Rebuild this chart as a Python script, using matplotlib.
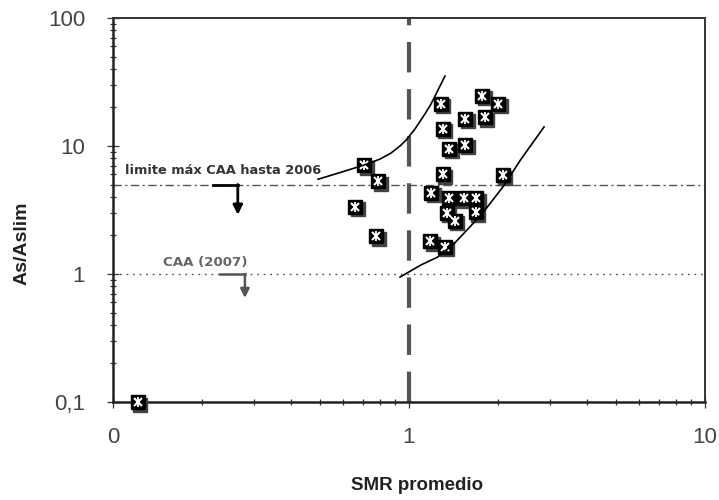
import matplotlib
matplotlib.use("Agg")
import matplotlib.pyplot as plt
import matplotlib.transforms as mtransforms
from matplotlib.ticker import FixedLocator, FixedFormatter, NullFormatter

# ── datos ───────────────────────────────────────────────────
smr_promedio = [1.28, 1.77, 2.00, 1.55, 1.80, 1.30, 1.37, 1.55, 1.30, 2.07,
                1.19, 1.36, 1.53, 1.69, 1.34, 1.43, 1.68, 1.18, 1.32,
                0.706, 0.787, 0.659, 0.775, 0.121]
as_aslim = [21.3, 24.6, 21.3, 16.3, 16.8, 13.6, 9.5, 10.2, 6.0, 5.9,
            4.3, 3.9, 3.9, 3.9, 3.0, 2.6, 3.05, 1.8, 1.63,
            7.1, 5.3, 3.34, 1.98, 0.1]

# límites de confianza (curvas)
curva_sup_x = [0.493, 0.598, 0.705, 0.798, 0.869, 0.932, 0.977, 1.048,
               1.132, 1.187, 1.323]
curva_sup_y = [5.5, 6.3, 7.1, 7.9, 8.8, 10.0, 11.1, 13.6, 17.8, 21.3, 35.2]
curva_inf_x = [0.933, 1.097, 1.251, 1.427, 1.665, 1.84, 2.10, 2.38, 2.86]
curva_inf_y = [0.947, 1.176, 1.358, 1.746, 2.55, 3.34, 4.96, 7.78, 14.1]

limite_2006 = 5
limite_2007 = 1
smr_ref = 1

flecha_2006_x = [0.218, 0.264]
flecha_2006_y = [5, 2.9]
flecha_2007_x = [0.23, 0.279]
flecha_2007_y = [1, 0.65]

xticks = [0.1, 1, 10]
xtick_labels = ["0", "1", "10"]
yticks = [0.1, 1, 10, 100]
ytick_labels = ["0,1", "1", "10", "100"]

fig = plt.figure(figsize=(7.19, 5.0), dpi=100)
ax = fig.add_axes([113 / 719, 98 / 500, 592 / 719, 384 / 500])
ax.set_xscale("log")
ax.set_yscale("log")
ax.set_xlim(0.1, 10)
ax.set_ylim(0.1, 100)

# líneas de referencia
ax.plot([smr_ref, smr_ref], [0.1, 100], color="#555555", lw=3.0,
        dashes=(7.3, 4.0), zorder=2)
ax.axhline(limite_2006, color="#555555", lw=1.0, dashes=(6, 2.5, 1.5, 2.5), zorder=2)
ax.axhline(limite_2007, color="#555555", lw=1.0, dashes=(1.3, 3.4), zorder=2)

# flechas
ax.plot(flecha_2006_x, [flecha_2006_y[0]] * 2, color="black", lw=2, zorder=3)
ax.annotate("", xy=(flecha_2006_x[1], flecha_2006_y[1]),
            xytext=(flecha_2006_x[1], flecha_2006_y[0]),
            arrowprops=dict(arrowstyle="-|>", color="black", lw=2,
                            mutation_scale=14, shrinkA=0, shrinkB=0))
ax.plot(flecha_2007_x, [flecha_2007_y[0]] * 2, color="#555555", lw=1.8, zorder=3)
ax.annotate("", xy=(flecha_2007_x[1], flecha_2007_y[1]),
            xytext=(flecha_2007_x[1], flecha_2007_y[0]),
            arrowprops=dict(arrowstyle="-|>", color="#555555", lw=1.8,
                            mutation_scale=13, shrinkA=0, shrinkB=0))

ax.text(0.11, 6.4, "limite máx CAA hasta 2006", fontsize=9.4, fontweight="bold",
        color="#333333", va="center", ha="left")
ax.text(0.147, 1.22, "CAA (2007)", fontsize=9.6, fontweight="bold",
        color="#666666", va="center", ha="left")

# puntos con sombra
sombra = mtransforms.offset_copy(ax.transData, fig=fig, x=2.5, y=-2.5, units="dots")
ax.plot(smr_promedio, as_aslim, "s", ms=10.5, color="#444444", mec="#444444",
        transform=sombra, clip_on=False, zorder=4)
ax.plot(smr_promedio, as_aslim, "s", ms=10.5, color="black", mec="black",
        clip_on=False, zorder=5)
ax.plot(smr_promedio, as_aslim, "x", ms=6, mew=1.5, color="white",
        clip_on=False, zorder=6)
ax.plot(smr_promedio, as_aslim, "|", ms=7, mew=1.3, color="white",
        clip_on=False, zorder=6)

# curvas
ax.plot(curva_sup_x, curva_sup_y, color="black", lw=1.2, zorder=7)
ax.plot(curva_inf_x, curva_inf_y, color="black", lw=1.2, zorder=7)

# ejes
ax.xaxis.set_major_locator(FixedLocator(xticks))
ax.xaxis.set_major_formatter(FixedFormatter(xtick_labels))
ax.yaxis.set_major_locator(FixedLocator(yticks))
ax.yaxis.set_major_formatter(FixedFormatter(ytick_labels))
ax.xaxis.set_minor_locator(FixedLocator([m * d for d in (0.1, 1) for m in range(2, 10)]))
ax.yaxis.set_minor_locator(FixedLocator([m * d for d in (0.1, 1, 10) for m in range(2, 10)]))
ax.xaxis.set_minor_formatter(NullFormatter())
ax.yaxis.set_minor_formatter(NullFormatter())

for lab in ax.get_xticklabels() + ax.get_yticklabels():
    lab.set_fontfamily(["Liberation Sans", "DejaVu Sans"])
    lab.set_fontsize(16)
    lab.set_color("#444444")

ax.tick_params(which="both", direction="inout", color="#333333", width=0.9)
ax.tick_params(which="major", length=8)
ax.tick_params(which="minor", length=5)
ax.tick_params(axis="x", which="major", pad=14)
ax.tick_params(axis="y", which="major", pad=16)

for lado in ["left", "bottom"]:
    ax.spines[lado].set_linewidth(1.8)
    ax.spines[lado].set_color("#222222")
for lado in ["top", "right"]:
    ax.spines[lado].set_linewidth(1.4)
    ax.spines[lado].set_color("#333333")

fig.text(22 / 719, 1 - 243 / 500, "As/Aslim", rotation=90, fontsize=14,
         fontweight="bold", color="#222222", ha="center", va="center",
         family=["Liberation Sans", "DejaVu Sans"])
fig.text(417 / 719, 1 - 486 / 500, "SMR promedio", fontsize=13.5,
         fontweight="bold", color="#222222", ha="center", va="center",
         family=["Liberation Sans", "DejaVu Sans"])

fig.savefig("out.png", dpi=100)
